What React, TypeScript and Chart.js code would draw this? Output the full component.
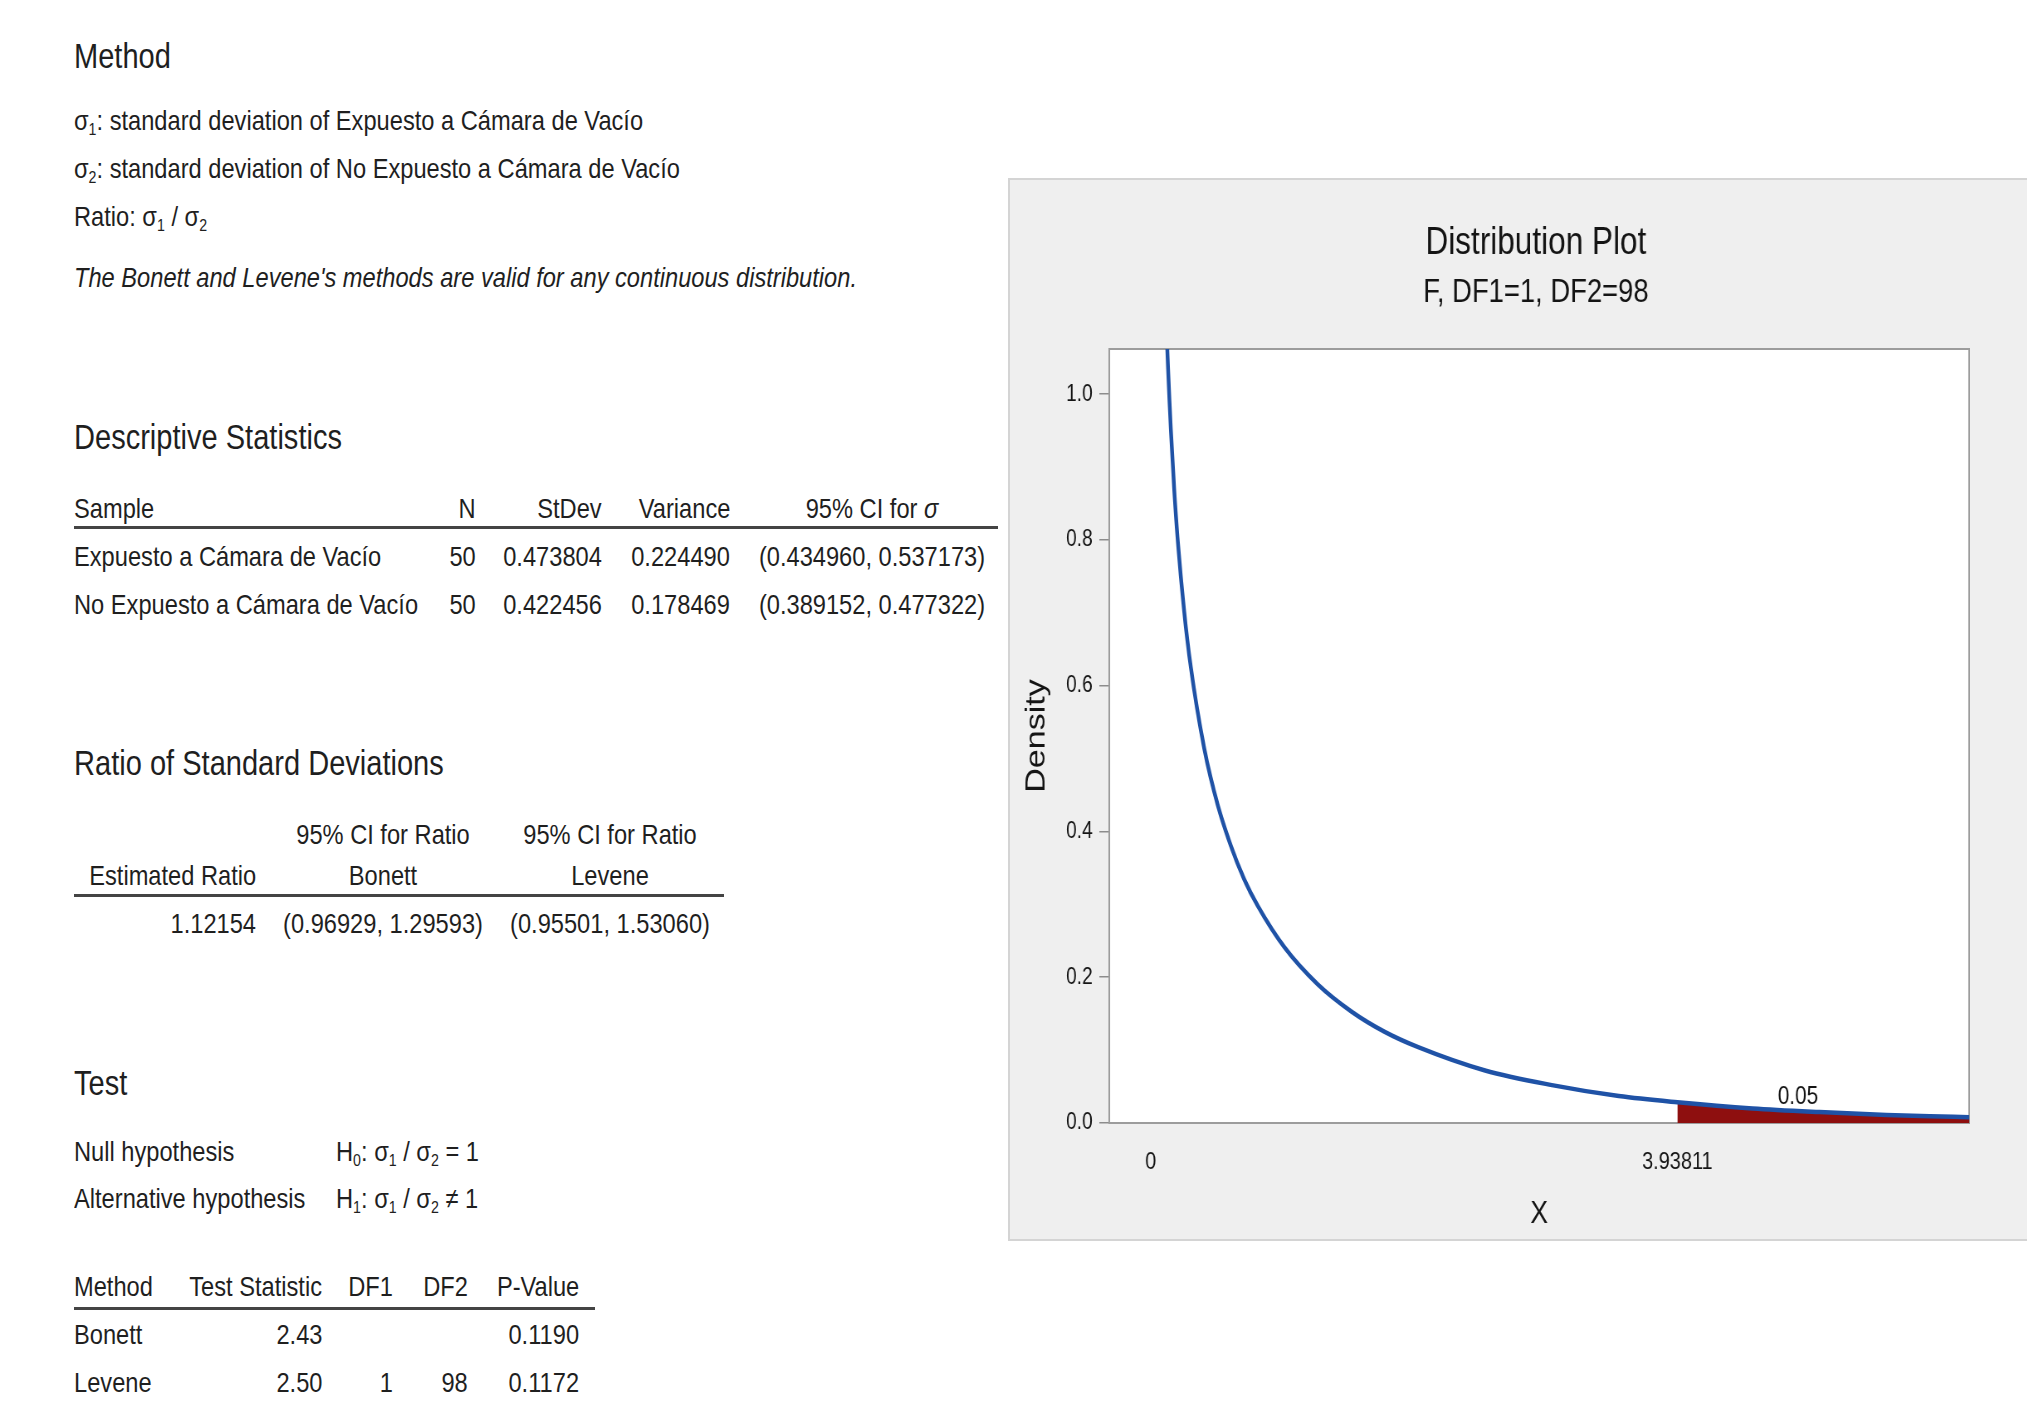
import React, { useEffect, useRef } from "react";
import { Chart, registerables } from "chart.js";
Chart.register(...registerables);

// ---------- chart data ----------
const curveX = [0.12, 0.125, 0.13, 0.14, 0.15, 0.175, 0.2, 0.25, 0.3, 0.4, 0.5, 0.6, 0.7, 0.8, 1.0, 1.25, 1.5, 1.75, 2.0, 2.5, 3.0, 3.5, 3.93811, 4.5, 5.0, 5.5, 6.0, 6.12];
const curveY = [1.081, 1.057, 1.034, 0.991, 0.953, 0.871, 0.804, 0.702, 0.625, 0.514, 0.437, 0.38, 0.334, 0.298, 0.241, 0.19, 0.153, 0.125, 0.104, 0.072, 0.052, 0.037, 0.0285, 0.02, 0.015, 0.011, 0.0086, 0.008];
const tailX = [3.93811, 4.5, 5.0, 5.5, 6.0, 6.12];
const tailY = [0.0285, 0.02, 0.015, 0.011, 0.0086, 0.008];
const xTickValues = [0, 3.93811];
const xTickLabels = ["0", "3.93811"];
const yTickValues = [0, 0.2, 0.4, 0.6, 0.8, 1.0];
const tailLabel = "0.05";
const tailLabelAt = [4.84, 0.036];
const chartTitle = "Distribution Plot";
const chartSubtitle = "F, DF1=1, DF2=98";

// ---------- text tables ----------
const descHeader = ["Sample", "N", "StDev", "Variance", "95% CI for σ"];
const descSamples = ["Expuesto a Cámara de Vacío", "No Expuesto a Cámara de Vacío"];
const descN = ["50", "50"];
const descStDev = ["0.473804", "0.422456"];
const descVariance = ["0.224490", "0.178469"];
const descCI = ["(0.434960, 0.537173)", "(0.389152, 0.477322)"];
const ratioValues = ["1.12154", "(0.96929, 1.29593)", "(0.95501, 1.53060)"];
const testHeader = ["Method", "Test Statistic", "DF1", "DF2", "P-Value"];
const testMethods = ["Bonett", "Levene"];
const testStat = ["2.43", "2.50"];
const testDF1 = ["", "1"];
const testDF2 = ["", "98"];
const testP = ["0.1190", "0.1172"];

const FONT = "'Liberation Sans', Arial, sans-serif";
const TXT = "#1f1f1f";
const W = 2027;
const K = 0.83; // horizontal condensing of the reference rendering
const CW = Math.round(1019 / K); // internal canvas width
const CH = 1063;

function T(props: any) {
  const { x, y, size = 28.5, align = "left", italic = false, children } = props;
  const h = Math.round(size * 1.6);
  const style: any = {
    position: "absolute",
    top: y - h / 2,
    height: h,
    lineHeight: h + "px",
    fontSize: size,
    whiteSpace: "nowrap",
    fontFamily: FONT,
    color: TXT,
    fontStyle: italic ? "italic" : "normal",
    transform: `scaleX(${K})`,
  };
  if (align === "left") {
    style.left = x;
    style.transformOrigin = "left center";
  } else if (align === "right") {
    style.right = W - x;
    style.transformOrigin = "right center";
  } else {
    style.left = x - 400;
    style.width = 800;
    style.textAlign = "center";
    style.transformOrigin = "center center";
  }
  return <div style={style}>{children}</div>;
}

function Rule(props: any) {
  const { x1, x2, y } = props;
  return <div style={{ position: "absolute", left: x1, width: x2 - x1, top: y - 1.5, height: 3, background: "#444" }} />;
}

const Sub = (p: any) => <span style={{ fontSize: "60%", verticalAlign: "-0.32em" }}>{p.children}</span>;
const Sig = (p: any) => (
  <span>
    σ<Sub>{p.n}</Sub>
  </span>
);

function DistChart() {
  const ref = useRef<HTMLCanvasElement>(null);
  useEffect(() => {
    const decor = {
      id: "decor",
      beforeDraw(chart: any) {
        const { ctx, chartArea: a } = chart;
        ctx.save();
        ctx.fillStyle = "#ffffff";
        ctx.fillRect(a.left, a.top, a.right - a.left, a.bottom - a.top);
        ctx.restore();
      },
      beforeDatasetsDraw(chart: any) {
        const { ctx, chartArea: a } = chart;
        ctx.save();
        ctx.strokeStyle = "#9c9c9c";
        ctx.lineWidth = 2;
        ctx.strokeRect(a.left, a.top, a.right - a.left, a.bottom - a.top);
        ctx.restore();
      },
      afterDraw(chart: any) {
        const { ctx, scales } = chart;
        ctx.save();
        ctx.fillStyle = "#141414";
        ctx.textAlign = "center";
        ctx.textBaseline = "middle";
        ctx.font = `38px ${FONT}`;
        ctx.fillText(chartTitle, 636, 66);
        ctx.font = `33px ${FONT}`;
        ctx.fillText(chartSubtitle, 636, 115);
        ctx.font = `25px ${FONT}`;
        ctx.fillText(tailLabel, scales.x.getPixelForValue(tailLabelAt[0]), scales.y.getPixelForValue(tailLabelAt[1]));
        ctx.restore();
      },
    };
    const chart = new Chart(ref.current as HTMLCanvasElement, {
      type: "line",
      data: {
        datasets: [
          {
            data: curveX.map((x, i) => ({ x, y: curveY[i] })),
            borderColor: "#1f52a6",
            borderWidth: 4.5,
            pointRadius: 0,
            cubicInterpolationMode: "monotone",
            fill: false,
          },
          {
            data: tailX.map((x, i) => ({ x, y: tailY[i] })),
            borderColor: "#8e0f0f",
            borderWidth: 0,
            backgroundColor: "#8e0f0f",
            pointRadius: 0,
            cubicInterpolationMode: "monotone",
            fill: "origin",
          },
        ],
      },
      options: {
        animation: false,
        responsive: false,
        devicePixelRatio: 1,
        layout: { padding: { left: 0, right: CW - 1158, top: 171, bottom: 0 } },
        plugins: { legend: { display: false }, tooltip: { enabled: false }, title: { display: false } },
        scales: {
          x: {
            type: "linear",
            min: -0.31,
            max: 6.12,
            afterBuildTicks: (s: any) => {
              s.ticks = xTickValues.map((v) => ({ value: v }));
            },
            afterFit: (s: any) => {
              s.height = 118;
            },
            ticks: {
              callback: (v: any) => xTickLabels[xTickValues.indexOf(Number(v))],
              font: { family: FONT, size: 24 },
              color: "#141414",
              padding: 17,
              maxRotation: 0,
              autoSkip: false,
            },
            grid: { display: false },
            border: { display: false },
            title: { display: true, text: "X", font: { family: FONT, size: 32 }, color: "#141414", padding: { top: 0, bottom: 8 } },
          },
          y: {
            type: "linear",
            min: 0,
            max: 1.062,
            afterBuildTicks: (s: any) => {
              s.ticks = yTickValues.map((v) => ({ value: v }));
            },
            afterFit: (s: any) => {
              s.width = 122;
            },
            ticks: {
              callback: (v: any) => Number(v).toFixed(1),
              font: { family: FONT, size: 23 },
              color: "#141414",
              padding: 8,
            },
            grid: { display: true, drawOnChartArea: false, drawTicks: true, tickLength: 12, color: "#8c8c8c", lineWidth: 1.5 },
            border: { display: false },
            title: { display: true, text: "Density", font: { family: FONT, size: 34 }, color: "#141414", padding: { top: 14, bottom: 0 } },
          },
        },
      },
      plugins: [decor],
    } as any);
    return () => chart.destroy();
  }, []);
  return (
    <canvas
      ref={ref}
      width={CW}
      height={CH}
      style={{
        position: "absolute",
        left: 1008,
        top: 178,
        width: CW,
        height: CH,
        transform: `scaleX(${K})`,
        transformOrigin: "left top",
      }}
    />
  );
}

export default function App() {
  return (
    <div style={{ position: "absolute", left: 0, top: 0, width: W, height: 1405, overflow: "hidden", background: "#fff" }}>
      {/* Method */}
      <T x={74} y={56} size={35}>Method</T>
      <T x={74} y={120}><Sig n="1" />: standard deviation of {descSamples[0]}</T>
      <T x={74} y={168}><Sig n="2" />: standard deviation of {descSamples[1]}</T>
      <T x={74} y={216}>Ratio: <Sig n="1" /> / <Sig n="2" /></T>
      <T x={74} y={277} italic>The Bonett and Levene's methods are valid for any continuous distribution.</T>

      {/* Descriptive statistics */}
      <T x={74} y={437} size={35}>Descriptive Statistics</T>
      <T x={74} y={508}>{descHeader[0]}</T>
      <T x={476} y={508} align="right">{descHeader[1]}</T>
      <T x={602} y={508} align="right">{descHeader[2]}</T>
      <T x={730} y={508} align="right">{descHeader[3]}</T>
      <T x={872} y={508} align="center">95% CI for <i>σ</i></T>
      <Rule x1={74} x2={998} y={527} />
      {descSamples.map((s, i) => (
        <React.Fragment key={s}>
          <T x={74} y={556 + i * 48}>{s}</T>
          <T x={476} y={556 + i * 48} align="right">{descN[i]}</T>
          <T x={602} y={556 + i * 48} align="right">{descStDev[i]}</T>
          <T x={730} y={556 + i * 48} align="right">{descVariance[i]}</T>
          <T x={872} y={556 + i * 48} align="center">{descCI[i]}</T>
        </React.Fragment>
      ))}

      {/* Ratio */}
      <T x={74} y={763} size={35}>Ratio of Standard Deviations</T>
      <T x={383} y={834} align="center">95% CI for Ratio</T>
      <T x={610} y={834} align="center">95% CI for Ratio</T>
      <T x={256} y={875} align="right">Estimated Ratio</T>
      <T x={383} y={875} align="center">Bonett</T>
      <T x={610} y={875} align="center">Levene</T>
      <Rule x1={74} x2={724} y={895} />
      <T x={256} y={923} align="right">{ratioValues[0]}</T>
      <T x={383} y={923} align="center">{ratioValues[1]}</T>
      <T x={610} y={923} align="center">{ratioValues[2]}</T>

      {/* Test */}
      <T x={74} y={1083} size={35}>Test</T>
      <T x={74} y={1151}>Null hypothesis</T>
      <T x={336} y={1151}>H<Sub>0</Sub>: <Sig n="1" /> / <Sig n="2" /> = 1</T>
      <T x={74} y={1198}>Alternative hypothesis</T>
      <T x={336} y={1198}>H<Sub>1</Sub>: <Sig n="1" /> / <Sig n="2" /> ≠ 1</T>

      <T x={74} y={1286}>{testHeader[0]}</T>
      <T x={322} y={1286} align="right">{testHeader[1]}</T>
      <T x={393} y={1286} align="right">{testHeader[2]}</T>
      <T x={468} y={1286} align="right">{testHeader[3]}</T>
      <T x={579} y={1286} align="right">{testHeader[4]}</T>
      <Rule x1={74} x2={595} y={1308} />
      {testMethods.map((m, i) => (
        <React.Fragment key={m}>
          <T x={74} y={1334 + i * 48}>{m}</T>
          <T x={322} y={1334 + i * 48} align="right">{testStat[i]}</T>
          <T x={393} y={1334 + i * 48} align="right">{testDF1[i]}</T>
          <T x={468} y={1334 + i * 48} align="right">{testDF2[i]}</T>
          <T x={579} y={1334 + i * 48} align="right">{testP[i]}</T>
        </React.Fragment>
      ))}

      {/* chart panel */}
      <div
        style={{
          position: "absolute",
          left: 1008,
          top: 178,
          width: 1040,
          height: 1063,
          boxSizing: "border-box",
          background: "#efefef",
          border: "2px solid #d4d4d4",
        }}
      />
      <DistChart />
    </div>
  );
}
